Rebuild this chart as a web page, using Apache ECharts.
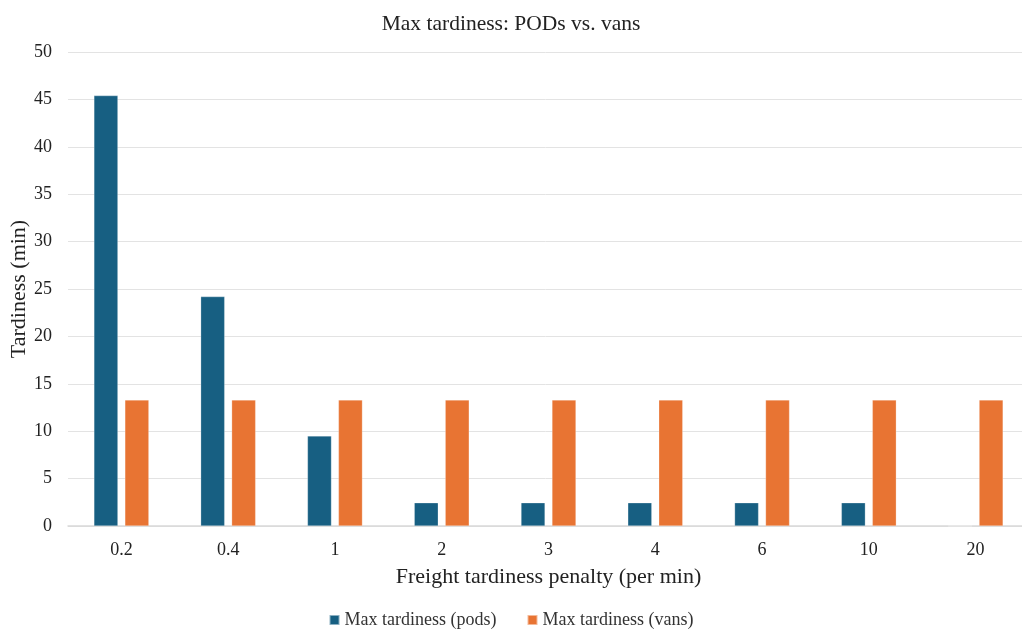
<!DOCTYPE html>
<html><head><meta charset="utf-8">
<script src="https://cdn.jsdelivr.net/npm/echarts@6/dist/echarts.min.js"></script>
<style>html,body{margin:0;padding:0;background:#fff}#c{width:1022px;height:632px}</style>
</head><body><div id="c"></div>
<script>
const categories = ['0.2','0.4','1','2','3','4','6','10','20'];
const podsValues = [45.4, 24.2, 9.5, 2.45, 2.45, 2.45, 2.45, 2.45, 0];
const vansValues = [13.3, 13.3, 13.3, 13.3, 13.3, 13.3, 13.3, 13.3, 13.3];
const yTicks = { min: 0, max: 50, interval: 5 };

const font = '"Liberation Serif", "Times New Roman", serif';
const chart = echarts.init(document.getElementById('c'), null, {renderer:'canvas'});
chart.setOption({
  backgroundColor: '#ffffff',
  animation: false,
  textStyle: { fontFamily: font },
  title: { text: 'Max tardiness: PODs vs. vans', left: 'center', top: 8,
    textStyle: { fontFamily: font, fontSize: 21.5, fontWeight: 'normal', color: '#222' } },
  legend: { bottom: -2, left: 'center', itemWidth: 10, itemHeight: 10, itemGap: 30, icon: 'rect',
    textStyle: { fontFamily: font, fontSize: 18, color: '#333' } },
  grid: { left: 68, right: -7, top: 52, bottom: 106, containLabel: false, outerBoundsMode: 'none' },
  xAxis: { type: 'category', data: categories,
    name: 'Freight tardiness penalty (per min)', nameLocation: 'middle', nameGap: 40, nameMoveOverlap: false,
    nameTextStyle: { fontFamily: font, fontSize: 22, color: '#222' },
    axisLine: { lineStyle: { color: '#d9d9d9', width: 1.5 } }, axisTick: { show: false },
    axisLabel: { fontFamily: font, fontSize: 18, color: '#222', margin: 15 } },
  yAxis: { type: 'value', min: yTicks.min, max: yTicks.max, interval: yTicks.interval,
    name: 'Tardiness (min)', nameLocation: 'middle', nameGap: 38, nameMoveOverlap: false,
    nameTextStyle: { fontFamily: font, fontSize: 22, color: '#222' },
    axisLine: { show: false }, axisTick: { show: false },
    axisLabel: { fontFamily: font, fontSize: 18, color: '#222', margin: 16 },
    splitLine: { lineStyle: { color: '#e3e3e3', width: 1 } } },
  series: [
    { name: 'Max tardiness (pods)', type: 'bar', data: podsValues, barWidth: 24, barGap: '29%',
      itemStyle: { color: '#175f82', borderColor: 'rgba(255,255,255,0.5)', borderWidth: 0.5 } },
    { name: 'Max tardiness (vans)', type: 'bar', data: vansValues, barWidth: 24,
      itemStyle: { color: '#e87433', borderColor: 'rgba(255,255,255,0.5)', borderWidth: 0.5 } }
  ]
});
</script></body></html>
